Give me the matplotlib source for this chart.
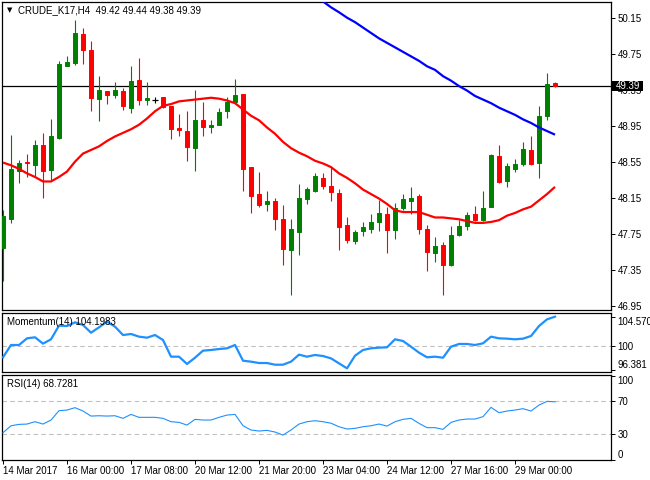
import matplotlib
matplotlib.use('Agg')
import matplotlib.pyplot as plt
from matplotlib.patches import Rectangle
import numpy as np

plt.rcParams['font.family'] = ['Liberation Sans', 'DejaVu Sans']

# ---------------- data ----------------
opens = [47.59, 47.91, 48.45, 48.55, 48.51, 48.73, 48.46, 48.81, 49.61, 49.65,
         49.97, 49.79, 49.25, 49.34, 49.29, 49.34, 49.15, 49.46, 49.24, 49.24,
         49.27, 49.17, 48.92, 48.89, 48.70, 49.01, 48.94, 48.96, 49.11, 49.21,
         49.30, 48.49, 48.19, 48.08, 48.11, 47.91, 47.57, 47.77, 48.14, 48.22,
         48.37, 48.28, 48.20, 47.85, 47.67, 47.78, 47.80, 47.88, 47.97, 47.79,
         48.04, 48.11, 48.17, 47.80, 47.54, 47.62, 47.40, 47.74, 47.84, 47.97,
         47.90, 48.05, 48.61, 48.34, 48.47, 48.52, 48.68, 48.54, 49.06, 49.42]
highs = [48.01, 48.85, 48.57, 48.64, 48.79, 48.87, 49.02, 49.67, 49.72, 50.12,
         50.04, 49.89, 49.50, 49.34, 49.43, 49.37, 49.61, 49.70, 49.44, 49.27,
         49.27, 49.17, 49.08, 49.11, 49.35, 49.21, 49.01, 49.15, 49.27, 49.47,
         49.30, 48.49, 48.43, 48.22, 48.15, 48.07, 47.91, 48.30, 48.27, 48.42,
         48.42, 48.49, 48.25, 47.93, 47.79, 47.88, 47.97, 48.12, 48.05, 48.09,
         48.19, 48.27, 48.19, 47.85, 47.71, 47.66, 47.84, 47.90, 47.99, 48.06,
         48.22, 48.64, 48.74, 48.53, 48.58, 48.77, 48.84, 49.17, 49.54, 49.44]
lows = [47.22, 47.87, 48.31, 48.38, 48.38, 48.15, 48.33, 48.80, 49.61, 49.62,
        49.64, 49.11, 49.00, 49.19, 49.26, 49.12, 49.09, 49.18, 49.18, 49.20,
        49.15, 48.80, 48.83, 48.56, 48.45, 48.83, 48.87, 48.96, 49.04, 49.20,
        48.22, 47.98, 48.05, 48.00, 47.79, 47.40, 47.07, 47.51, 48.08, 48.21,
        48.25, 48.11, 47.57, 47.65, 47.64, 47.72, 47.76, 47.78, 47.54, 47.69,
        48.01, 47.97, 47.75, 47.33, 47.43, 47.07, 47.39, 47.72, 47.79, 47.89,
        47.89, 48.05, 48.31, 48.27, 48.44, 48.50, 48.51, 48.37, 49.01, 49.38]
closes = [47.95, 48.47, 48.53, 48.53, 48.74, 48.45, 48.84, 49.64, 49.66, 49.98,
          49.79, 49.26, 49.35, 49.29, 49.35, 49.17, 49.45, 49.23, 49.26, 49.24,
          49.16, 48.91, 48.90, 48.71, 49.01, 48.93, 48.96, 49.10, 49.21, 49.29,
          48.47, 48.17, 48.07, 48.11, 47.91, 47.58, 47.80, 48.15, 48.25, 48.39,
          48.28, 48.21, 47.82, 47.68, 47.77, 47.82, 47.88, 47.98, 47.79, 48.03,
          48.14, 48.15, 47.80, 47.55, 47.61, 47.40, 47.74, 47.84, 47.96, 47.90,
          48.04, 48.62, 48.32, 48.50, 48.52, 48.69, 48.52, 49.06, 49.41, 49.39]
ma_red = [48.54, 48.51, 48.47, 48.42, 48.38, 48.33, 48.33, 48.38, 48.44, 48.55,
          48.64, 48.68, 48.72, 48.78, 48.83, 48.87, 48.91, 48.96, 49.03, 49.11,
          49.17, 49.19, 49.22, 49.23, 49.24, 49.25, 49.26, 49.25, 49.23, 49.20,
          49.13, 49.06, 49.01, 48.93, 48.86, 48.77, 48.70, 48.65, 48.61, 48.56,
          48.53, 48.49, 48.42, 48.37, 48.31, 48.24, 48.19, 48.14, 48.08, 48.01,
          47.99, 47.99, 47.99, 47.96, 47.93, 47.93, 47.92, 47.91, 47.89, 47.87,
          47.87, 47.88, 47.90, 47.95, 47.98, 48.02, 48.05, 48.12, 48.19, 48.27]
ma_blue_start = 40
ma_blue = [50.33, 50.265, 50.21, 50.15, 50.10, 50.04, 49.98, 49.92, 49.87, 49.82,
           49.77, 49.72, 49.67, 49.61, 49.57, 49.50, 49.45, 49.39, 49.34, 49.28,
           49.24, 49.20, 49.15, 49.11, 49.07, 49.02, 48.98, 48.93, 48.89, 48.85]
momentum = [98.30, 100.20, 100.20, 101.23, 101.39, 100.41, 101.08, 103.19, 103.13, 103.70,
            103.29, 102.10, 102.93, 103.80, 103.03, 101.74, 101.90, 101.49, 101.33, 101.74,
            100.97, 98.40, 98.40, 97.27, 98.24, 99.33, 99.43, 99.58, 99.69, 100.20,
            97.78, 97.63, 97.42, 97.42, 97.16, 97.16, 97.63, 98.71, 98.40, 98.66,
            98.50, 98.14, 97.37, 96.60, 98.55, 99.43, 99.69, 99.79, 99.84, 101.08,
            100.82, 99.94, 99.02, 98.30, 98.40, 98.24, 99.94, 100.36, 100.36, 100.20,
            100.46, 101.49, 101.23, 101.18, 101.08, 101.18, 101.59, 103.13, 104.16, 104.57]
rsi = [31.9, 40.2, 41.8, 42.2, 45.0, 42.2, 47.0, 58.1, 58.9, 61.7,
       57.7, 51.7, 52.1, 51.7, 52.1, 49.0, 53.7, 50.2, 50.2, 50.2,
       49.0, 45.0, 44.2, 41.0, 47.8, 47.0, 47.0, 50.2, 52.9, 53.7,
       40.2, 35.1, 33.9, 34.7, 32.7, 29.1, 35.1, 42.2, 45.0, 46.2,
       45.0, 43.2, 39.0, 36.3, 37.1, 39.0, 40.2, 42.2, 39.8, 45.0,
       47.8, 49.0, 43.0, 37.9, 37.9, 35.9, 44.2, 47.0, 48.2, 48.2,
       51.0, 62.1, 55.7, 57.7, 58.9, 60.5, 57.7, 64.8, 69.2, 68.7]
time_labels = ["14 Mar 2017", "16 Mar 00:00", "17 Mar 08:00", "20 Mar 12:00",
               "21 Mar 20:00", "23 Mar 04:00", "24 Mar 12:00", "27 Mar 16:00",
               "29 Mar 00:00"]
label_every = 8
price_ticks = [50.15, 49.75, 49.35, 48.95, 48.55, 48.15, 47.75, 47.35, 46.95]
mom_ticks = [96.381, 100, 104.5706]
rsi_ticks = [0, 30, 70, 100]
title = "CRUDE_K17,H4  49.42 49.44 49.38 49.39"
mom_title = "Momentum(14) 104.1983"
rsi_title = "RSI(14) 68.7281"

# ---------------- figure ----------------
W, H = 650, 480
fig = plt.figure(figsize=(W / 100, H / 100), dpi=100)
fig.patch.set_facecolor('white')


def px_axes(left, top, right, bottom):
    return fig.add_axes([left / W, 1 - bottom / H, (right - left) / W, (bottom - top) / H])


ax = px_axes(2, 2, 610.7, 310)
axm = px_axes(2, 313, 610.7, 371.7)
axr = px_axes(2, 374.5, 610.7, 459.5)

FS = 7
xlim = (-0.125, 75.96)
for a in (ax, axm, axr):
    a.set_xlim(*xlim)
    for s in a.spines.values():
        s.set_linewidth(0.9)
        s.set_color('black')
    a.yaxis.tick_right()
    a.tick_params(axis='y', direction='out', length=3, width=0.7, pad=2,
                  labelsize=FS, colors='black')
    a.set_facecolor('white')

# ---- main candles ----
o = np.array(opens); h = np.array(highs); l = np.array(lows); c = np.array(closes)
x = np.arange(len(o))
up = c > o
dn = c < o
dj = c == o
green = '#008000'
red = '#ff0000'
wick_cols = np.where(up, green, np.where(dn, red, 'black'))
ax.vlines(x, l, h, colors=wick_cols, linewidth=0.8, zorder=3)
body_cols = np.where(up, green, red)
nd = ~dj
ax.bar(x[nd], np.abs(c - o)[nd], bottom=np.minimum(o, c)[nd], width=0.5,
       color=body_cols[nd], edgecolor=body_cols[nd], linewidth=0.7, zorder=4)
ax.hlines(c[dj], x[dj] - 0.32, x[dj] + 0.32, colors='black', linewidth=0.9, zorder=4)

ax.plot(x, ma_red, color=red, lw=1.6, zorder=5, solid_capstyle='butt')
xb = np.arange(ma_blue_start, ma_blue_start + len(ma_blue))
ax.plot(xb, ma_blue, color='#0000ff', lw=1.6, zorder=5, solid_capstyle='butt')
ax.axhline(closes[-1], color='black', lw=0.9, zorder=2)

ax.set_ylim(46.902, 50.324)
ax.set_yticks(price_ticks)
ax.set_yticklabels([f"{v:.2f}" for v in price_ticks])
ax.set_xticks([])

ax.text(0.012, 0.972, '\u25BC', transform=ax.transAxes, fontsize=5,
        family='DejaVu Sans', va='center', ha='center', color='black')
ax.text(0.026, 0.972, title, transform=ax.transAxes, fontsize=FS,
        va='center', ha='left', color='black')

# price box for the last close
ypix = ax.transData.transform((0, closes[-1]))[1]
fig.patches.append(Rectangle((611 / W, (ypix - 4.8) / H), 32 / W, 9.6 / H,
                             transform=fig.transFigure, facecolor='black',
                             edgecolor='none', zorder=5))
fig.text(616 / W, ypix / H, f"{closes[-1]:.2f}", color='white', fontsize=FS,
         va='center', ha='left', zorder=6)

# ---- momentum ----
axm.plot(x, momentum, color='#1e90ff', lw=1.6, zorder=3)
axm.axhline(100, color='#c0c0c0', lw=0.8, ls=(0, (4, 3)), zorder=1)
axm.set_ylim(96.08, 105.14)
axm.set_yticks(mom_ticks)
axm.set_yticklabels(['96.381', '100', '104.5706'])
axm.set_xticks([])
labs = axm.get_yticklabels()
labs[0].set_va('bottom')
labs[2].set_va('top')
axm.text(0.009, 0.852, mom_title, transform=axm.transAxes, fontsize=FS,
         va='center', ha='left', color='black')

# ---- RSI ----
axr.plot(x, rsi, color='#1e90ff', lw=0.8, zorder=3)
for lvl in (30, 70):
    axr.axhline(lvl, color='#c0c0c0', lw=0.8, ls=(0, (4, 3)), zorder=1)
axr.set_ylim(0, 101.2)
axr.set_yticks(rsi_ticks)
axr.set_yticklabels([str(v) for v in rsi_ticks])
rl = axr.get_yticklabels()
rl[0].set_va('bottom')
rl[3].set_va('top')
axr.text(0.009, 0.888, rsi_title, transform=axr.transAxes, fontsize=FS,
         va='center', ha='left', color='black')

axr.set_xticks(np.arange(len(time_labels)) * label_every)
axr.set_xticklabels(time_labels)
axr.tick_params(axis='x', direction='out', length=3, width=0.7, pad=1.5,
                labelsize=FS, colors='black')
for t in axr.get_xticklabels():
    t.set_ha('left')

fig.savefig('out.png', dpi=100)
